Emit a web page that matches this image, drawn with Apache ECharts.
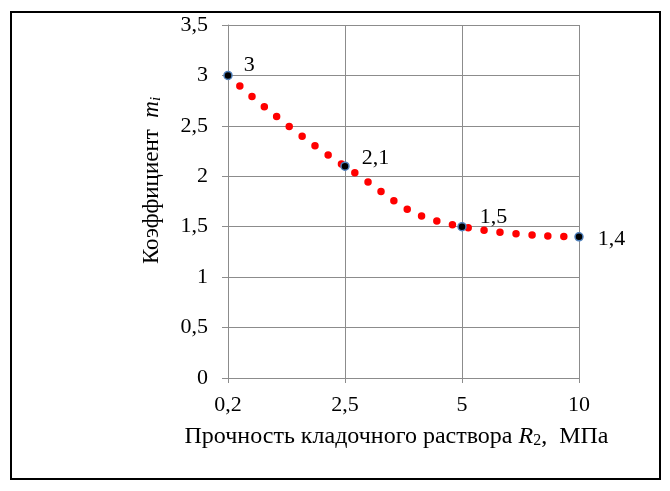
<!DOCTYPE html>
<html>
<head>
<meta charset="utf-8">
<script src="https://cdn.jsdelivr.net/npm/echarts@6/dist/echarts.min.js"></script>
<style>
  html, body { margin: 0; padding: 0; background: #fff; }
  #chart { width: 670px; height: 491px; }
</style>
</head>
<body>
<div id="chart"></div>
<script>
// прочность раствора R2, МПа (подписи по оси X)
var strengthLabels = ['0,2', '2,5', '5', '10'];
// коэффициент m_i в узловых точках
var coefValues = [3, 2.1, 1.5, 1.4];
// подписи точек
var pointLabels = ['3', '2,1', '1,5', '1,4'];
var labelShift = [[6, -10], [7, -8], [8, -9], [9, 2]];

var yTicks = [0, 0.5, 1, 1.5, 2, 2.5, 3, 3.5];

var serif = '"Liberation Serif", "DejaVu Serif", serif';

var chart = echarts.init(document.getElementById('chart'));

function fmtComma(v) {
    return String(v).replace('.', ',');
}

var pointData = coefValues.map(function (v, i) {
    return {
        value: v,
        label: {
            show: true,
            position: 'right',
            offset: labelShift[i],
            formatter: pointLabels[i]
        }
    };
});

var option = {
    backgroundColor: '#fff',
    animation: false,
    textStyle: { fontFamily: serif },
    graphic: [{
        type: 'rect',
        shape: { x: 11, y: 12, width: 649, height: 467 },
        style: { fill: 'none', stroke: '#000', lineWidth: 2 },
        z: 100
    }],
    grid: { left: 228, right: 91, top: 25, bottom: 113 },
    xAxis: {
        type: 'category',
        boundaryGap: false,
        data: strengthLabels,
        name: '{n|Прочность кладочного раствора }{i|R}{s|2}{n|,  МПа}',
        nameLocation: 'middle',
        nameGap: 46,
        nameTextStyle: {
            padding: [0, 14, 0, 0],
            rich: {
                n: { fontFamily: serif, fontSize: 24, color: '#000' },
                i: { fontFamily: serif, fontSize: 24, fontStyle: 'italic', color: '#000' },
                s: { fontFamily: serif, fontSize: 16, color: '#000', verticalAlign: 'bottom', padding: [9, 0, 0, 0] }
            }
        },
        axisLine: { lineStyle: { color: '#8c8c8c', width: 1 } },
        axisTick: { show: true, length: 5, alignWithLabel: true, lineStyle: { color: '#8c8c8c' } },
        axisLabel: { color: '#000', fontSize: 22, fontFamily: serif, margin: 16 },
        splitLine: { show: true, lineStyle: { color: '#8c8c8c', width: 1 } }
    },
    yAxis: {
        type: 'value',
        min: yTicks[0],
        max: yTicks[yTicks.length - 1],
        interval: 0.5,
        name: '{n|Коэффициент  }{i|m}{s|i}',
        nameLocation: 'middle',
        nameGap: 64,
        nameTextStyle: {
            padding: [0, 0, 0, 42],
            rich: {
                n: { fontFamily: serif, fontSize: 23, color: '#000' },
                i: { fontFamily: serif, fontSize: 23, fontStyle: 'italic', color: '#000' },
                s: { fontFamily: serif, fontSize: 15, fontStyle: 'italic', color: '#000', verticalAlign: 'bottom', padding: [9, 0, 0, 0] }
            }
        },
        axisLine: { show: true, lineStyle: { color: '#8c8c8c', width: 1 } },
        axisTick: { show: true, length: 6, lineStyle: { color: '#8c8c8c' } },
        axisLabel: {
            color: '#000', fontSize: 22, fontFamily: serif, margin: 20,
            formatter: fmtComma
        },
        splitLine: { show: true, lineStyle: { color: '#8c8c8c', width: 1 } }
    },
    series: [{
        type: 'line',
        data: coefValues,
        smooth: 0.5,
        showSymbol: false,
        symbol: 'none',
        lineStyle: {
            color: '#ff0000',
            width: 7.5,
            type: [0, 16],
            cap: 'round'
        },
        z: 2
    }, {
        type: 'line',
        data: pointData,
        lineStyle: { width: 0, opacity: 0 },
        symbol: 'circle',
        symbolSize: 8,
        itemStyle: { color: '#000', borderColor: '#4f81bd', borderWidth: 1.5 },
        label: { color: '#000', fontSize: 22, fontFamily: serif },
        z: 3
    }]
};

chart.setOption(option);
</script>
</body>
</html>
